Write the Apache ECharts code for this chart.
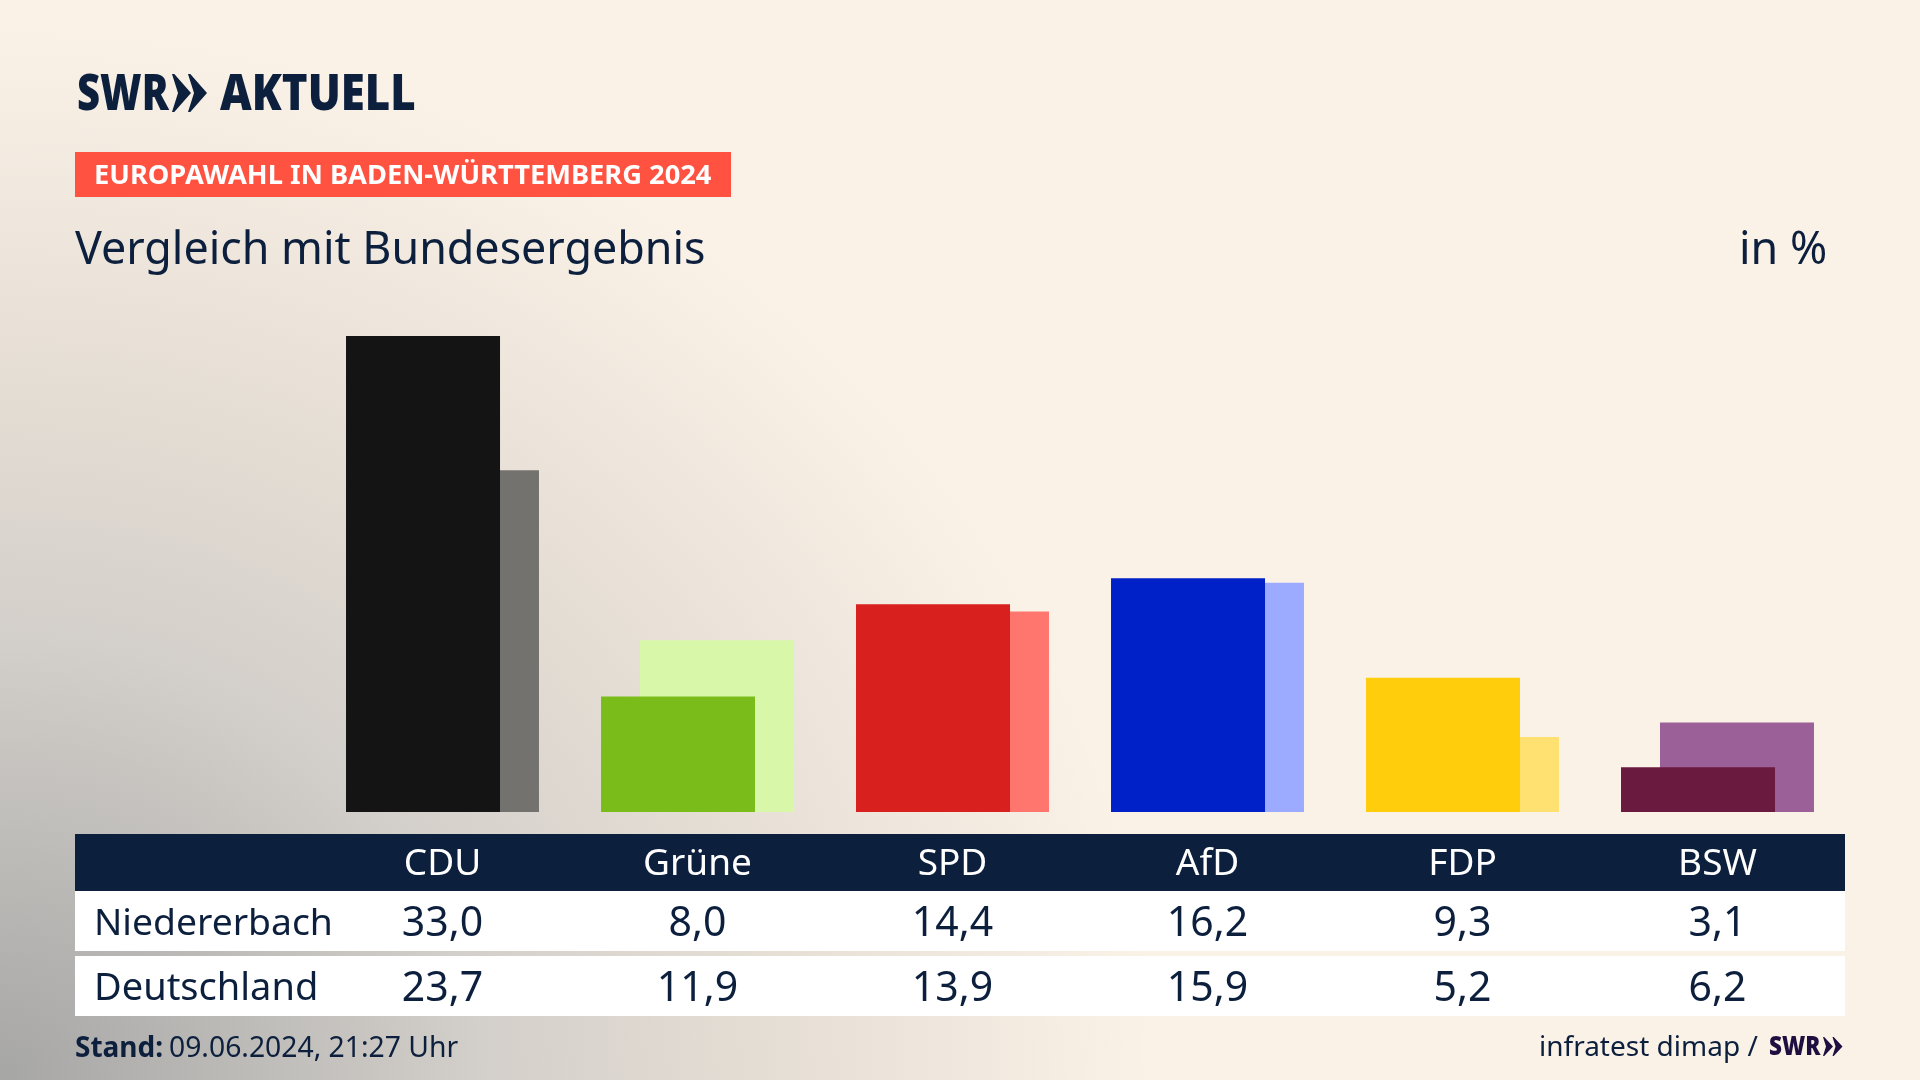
<!DOCTYPE html>
<html lang="de">
<head>
<meta charset="utf-8">
<title>Europawahl in Baden-Württemberg 2024</title>
<script src="https://cdn.jsdelivr.net/npm/echarts@6/dist/echarts.min.js"></script>
<style>
html,body{margin:0;padding:0;width:1920px;height:1080px;overflow:hidden;
background:radial-gradient(ellipse 1150px 1050px at 0 100%, #a6a6a5 0%, #d3cfca 42%, #e9e1d7 72%, #faf2e7 100%) #faf2e7;}
#chart{width:1920px;height:1080px;}
</style>
</head>
<body>
<div id="chart"></div>
<script>
const parties = ['CDU','Grüne','SPD','AfD','FDP','BSW'];
const localName = 'Niedererbach';
const nationalName = 'Deutschland';
const localValues = [33.0,8.0,14.4,16.2,9.3,3.1];
const nationalValues = [23.7,11.9,13.9,15.9,5.2,6.2];
const localColors = ['#141414','#7abd1a','#d8201e','#0021c8','#ffcd0c','#6a1a3f'];
const nationalColors = ['#73726f','#d8f7a9','#ff766f','#9cabff','#ffe172','#9c6098'];

const NAVY = '#0c1f3d';
const FONT = '"Noto Sans"';
const fmt = v => v.toFixed(1).replace('.', ',');

function tableAxis(data, offset, color, size) {
  return {
    type:'category', data, position:'bottom', offset, z:10,
    axisLine:{show:false}, axisTick:{show:false}, splitLine:{show:false},
    axisLabel:{show:true, interval:0, margin:0, color, fontFamily:FONT, fontSize:size, verticalAlign:'middle', align:'center'}
  };
}
function txt(x, y, text, font, fill, extra) {
  return Object.assign({type:'text', x, y, z:12, silent:true, style:{text, font, fill, verticalAlign:'middle'}}, extra||{});
}
function rect(x, y, w, h, fill) {
  return {type:'rect', z:1, shape:{x, y, width:w, height:h}, style:{fill}, silent:true};
}
function chevrons(x, y, h, step, tip, notch, fill) {
  return [0,1].map(i => ({type:'polygon', z:12, silent:true, shape:{points:[
    [x+i*step, y],[x+i*step+tip*0.12, y],[x+i*step+tip, y+h/2],[x+i*step+tip*0.12, y+h],[x+i*step, y+h],[x+i*step+notch, y+h/2]
  ]}, style:{fill}}));
}

const chart = echarts.init(document.getElementById('chart'), null, {renderer:'canvas', width:1920, height:1080});
chart.setOption({
  animation:false,
  backgroundColor:'transparent',
  grid:{left:315, right:75, top:336, bottom:268, containLabel:false},
  xAxis:[
    tableAxis(parties, 52, '#ffffff', 37),
    tableAxis(localValues.map(fmt), 112, NAVY, 41),
    tableAxis(nationalValues.map(fmt), 177, NAVY, 41)
  ],
  yAxis:{type:'value', min:0, max:33, show:false},
  series:[
    {name:localName, type:'bar', xAxisIndex:0, z:4, barWidth:154, barGap:'-74.7%',
     data:localValues.map((v,i)=>({value:v, itemStyle:{color:localColors[i]}}))},
    {name:nationalName, type:'bar', xAxisIndex:0, z:3, barWidth:154, barGap:'-74.7%',
     data:nationalValues.map((v,i)=>({value:v, itemStyle:{color:nationalColors[i]}}))}
  ],
  graphic:{elements:[
    rect(75,834,1770,57,NAVY),
    rect(75,891,1770,60,'#ffffff'),
    rect(75,956,1770,60,'#ffffff'),
    rect(75,152,656,45,'#ff5240'),
    txt(94,176,'EUROPAWAHL IN BADEN-WÜRTTEMBERG 2024','bold 27px '+FONT,'#ffffff',{scaleX:1.01}),
    txt(75,251,'Vergleich mit Bundesergebnis','44.8px '+FONT,NAVY),
    txt(1739,251,'in %','44.8px '+FONT,NAVY),
    txt(94,924,localName,'37.3px '+FONT,NAVY),
    txt(94,989,nationalName,'38px '+FONT,NAVY),
    txt(75,1049,'Stand:','bold 28px '+FONT,NAVY),
    txt(169,1049,'09.06.2024, 21:27 Uhr','28.3px '+FONT,NAVY),
    txt(1539,1048,'infratest dimap /','28px '+FONT,NAVY),
    txt(1769,1047,'SWR','900 27px '+FONT,'#1f0f40',{scaleX:0.83}),
    ...chevrons(1823,1037,19,9.5,10,3,'#1f0f40'),
    txt(77,96,'SWR','900 50px '+FONT,NAVY,{scaleX:0.80}),
    ...chevrons(172,74,38,16,19,6,NAVY),
    txt(220,96,'AKTUELL','900 50px '+FONT,NAVY,{scaleX:0.875})
  ]}
});
</script>
</body>
</html>
